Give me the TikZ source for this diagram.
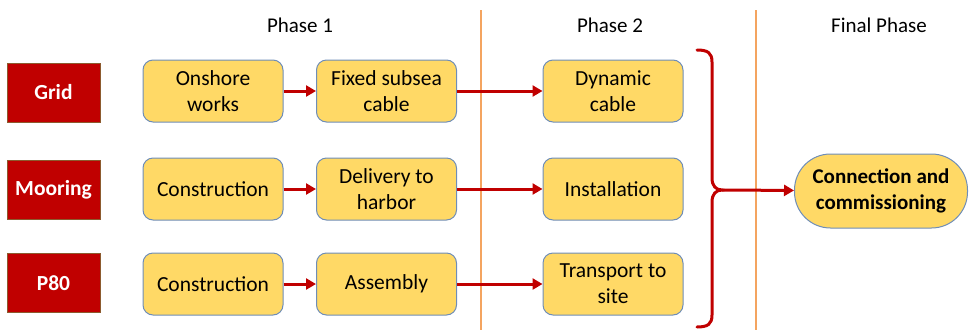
\documentclass[tikz,border=0pt]{standalone}
\usepackage{fontspec}
\setmainfont{Carlito}
\usetikzlibrary{arrows.meta}
\definecolor{labred}{HTML}{C00000}
\definecolor{labborder}{HTML}{8C5A2E}
\definecolor{taskyellow}{HTML}{FFD966}
\definecolor{taskborder}{HTML}{6E8DB8}
\definecolor{arrred}{HTML}{C00000}
\definecolor{phaseline}{HTML}{F4A460}
\tikzset{
  lab/.style={draw=labborder, fill=labred, text=white, font=\bfseries\fontsize{21.5}{24}\selectfont, minimum width=93pt, minimum height=59pt, inner sep=0pt, line width=0.8pt},
  task/.style={draw=taskborder, fill=taskyellow, rounded corners=10pt, minimum width=140pt, minimum height=62pt, align=center, font=\fontsize{21.5}{26}\selectfont, inner sep=0pt, line width=1pt},
  flow/.style={draw=arrred, line width=3pt, -{Triangle[length=10pt,width=11pt]}},
  phasetitle/.style={font=\fontsize{21}{24}\selectfont, inner sep=0pt},
  phasesep/.style={draw=phaseline, line width=1.2pt}
}
\begin{document}
\begin{tikzpicture}[x=1pt,y=-1pt]
\useasboundingbox (0,0) rectangle (969,330);
% phase separators
\coordinate (s1t) at (481,10); \coordinate (s1b) at (481,330);
\coordinate (s2t) at (756,10); \coordinate (s2b) at (756,330);
\draw[phasesep] (s1t) -- (s1b);
\draw[phasesep] (s2t) -- (s2b);
% titles
\node[phasetitle] (p1) at (300,25) {Phase 1};
\node[phasetitle] (p2) at (610,25) {Phase 2};
\node[phasetitle] (p3) at (879,25) {Final Phase};
% labels
\node[lab] (grid) at (53.5,92.5) {Grid};
\node[lab] (moor) at (53.5,189.5) {Mooring};
\node[lab] (p80) at (53.5,283) {P80};
% row 1
\node[task] (a1) at (213,91) {Onshore\\works};
\node[task] (a2) at (386.5,91) {Fixed subsea\\cable};
\node[task] (a3) at (613,91) {Dynamic\\cable};
% row 2
\node[task] (b1) at (213,189) {Construction};
\node[task] (b2) at (386.5,189) {Delivery to\\harbor};
\node[task] (b3) at (613,189) {Installation};
% row 3
\node[task] (c1) at (213,284) {Construction};
\node[task] (c2) at (386.5,284) {Assembly};
\node[task] (c3) at (613,284) {Transport to\\site};
% arrows
\draw[flow] (a1) -- (a2);
\draw[flow] (a2) -- (a3);
\draw[flow] (b1) -- (b2);
\draw[flow] (b2) -- (b3);
\draw[flow] (c1) -- (c2);
\draw[flow] (c2) -- (c3);
% final
\node[draw=taskborder, fill=taskyellow, rounded corners=36pt, minimum width=173pt, minimum height=74pt, align=center, font=\bfseries\fontsize{21}{26}\selectfont, inner sep=0pt, line width=1pt] (fin) at (881,191) {Connection and\\commissioning};
% brace
\coordinate (bt) at (697,50);
\coordinate (bb) at (697,327);
\coordinate (tip) at (722,190);
\draw[draw=arrred, line width=3pt, line cap=round]
  (bt) .. controls (708,50) and (712,53) .. (712,62)
  -- (712,178) .. controls (712,186) and (716,190) .. (tip)
  .. controls (716,190) and (712,194) .. (712,202)
  -- (712,315) .. controls (712,324) and (708,327) .. (bb);
\draw[flow] (tip) -- (fin);
\end{tikzpicture}
\end{document}
